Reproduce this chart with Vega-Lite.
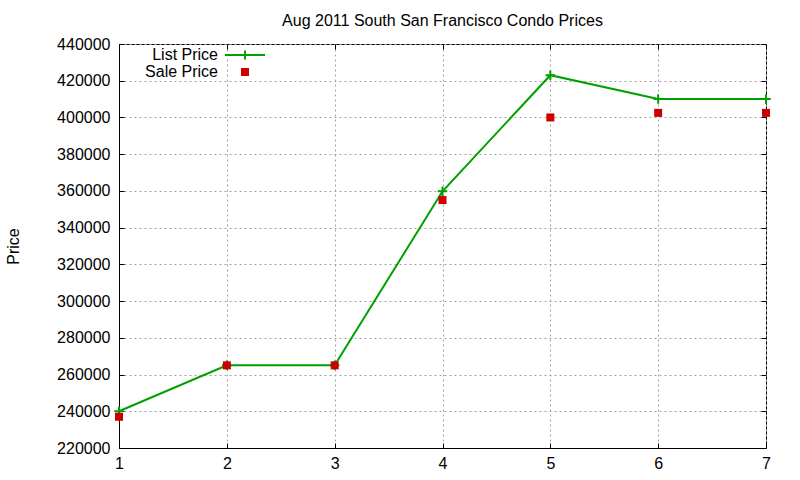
{
  "$schema": "https://vega.github.io/schema/vega-lite/v6.json",
  "autosize": "none",
  "width": 647,
  "height": 404,
  "padding": {"left": 119, "top": 44, "right": 34, "bottom": 32},
  "background": "white",
  "title": {
    "text": "Aug 2011 South San Francisco Condo Prices",
    "font": "Liberation Sans",
    "fontSize": 16,
    "fontWeight": "normal",
    "color": "black",
    "offset": 7
  },
  "config": {
    "view": {"stroke": "black", "strokeWidth": 1},
    "font": "Liberation Sans",
    "axis": {
      "labelFont": "Liberation Sans",
      "labelFontSize": 16,
      "labelColor": "black",
      "titleFont": "Liberation Sans",
      "titleFontSize": 16,
      "titleFontWeight": "normal",
      "titleColor": "black",
      "domainColor": "black",
      "tickColor": "black",
      "tickSize": -5,
      "labelPadding": 14,
      "gridColor": "#a0a0a0",
      "gridDash": [2, 3],
      "gridWidth": 1,
      "gridOpacity": 1
    },
    "legend": {
      "orient": "none",
      "title": null,
      "padding": 0,
      "labelFont": "Liberation Sans",
      "labelFontSize": 16,
      "labelColor": "black",
      "labelAlign": "right",
      "labelOffset": -35,
      "symbolSize": 64,
      "symbolStrokeWidth": 2,
      "symbolOpacity": 1
    }
  },
  "data": {
    "values": [
      {"month": 1, "series": "List Price", "price": 240000},
      {"month": 2, "series": "List Price", "price": 265000},
      {"month": 3, "series": "List Price", "price": 265000},
      {"month": 4, "series": "List Price", "price": 359800},
      {"month": 5, "series": "List Price", "price": 423000},
      {"month": 6, "series": "List Price", "price": 410000},
      {"month": 7, "series": "List Price", "price": 410000},
      {"month": 1, "series": "Sale Price", "price": 237000},
      {"month": 2, "series": "Sale Price", "price": 265000},
      {"month": 3, "series": "Sale Price", "price": 265000},
      {"month": 4, "series": "Sale Price", "price": 355000},
      {"month": 5, "series": "Sale Price", "price": 400000},
      {"month": 6, "series": "Sale Price", "price": 402500},
      {"month": 7, "series": "Sale Price", "price": 402500}
    ]
  },
  "layer": [
    {
      "transform": [{"filter": "datum.series === 'List Price'"}],
      "mark": {"type": "line", "color": "#00a000", "strokeWidth": 2},
      "encoding": {
        "x": {
          "field": "month", "type": "quantitative",
          "scale": {"domain": [1, 7], "nice": false},
          "axis": {"orient": "bottom", "values": [1, 2, 3, 4, 5, 6, 7], "title": null, "grid": true, "format": "d", "labelPadding": 12, "labelFlush": false}
        },
        "y": {
          "field": "price", "type": "quantitative",
          "scale": {"domain": [220000, 440000], "nice": false, "zero": false},
          "axis": {"orient": "left", "values": [220000, 240000, 260000, 280000, 300000, 320000, 340000, 360000, 380000, 400000, 420000, 440000], "format": "d", "title": "Price", "titlePadding": 35, "grid": true, "labelFlush": false}
        }
      }
    },
    {
      "transform": [{"filter": "datum.series === 'List Price'"}],
      "mark": {"type": "point", "filled": false, "opacity": 1, "strokeWidth": 2, "shape": "M-1,0H1M0,-1V1", "size": 90},
      "encoding": {
        "x": {
          "field": "month", "type": "quantitative",
          "axis": {"orient": "top", "values": [1, 2, 3, 4, 5, 6, 7], "labels": false, "title": null, "grid": false, "domain": false}
        },
        "y": {
          "field": "price", "type": "quantitative",
          "axis": {"orient": "right", "values": [220000, 240000, 260000, 280000, 300000, 320000, 340000, 360000, 380000, 400000, 420000, 440000], "labels": false, "title": null, "grid": false, "domain": false}
        },
        "stroke": {
          "field": "series", "type": "nominal",
          "scale": {"domain": ["List Price"], "range": ["#00a000"]},
          "legend": {"legendX": 118, "legendY": 3, "symbolType": "M-5,0H5M0,-1.1V1.1"}
        }
      }
    },
    {
      "transform": [{"filter": "datum.series === 'Sale Price'"}],
      "mark": {"type": "point", "filled": true, "opacity": 1, "shape": "square", "size": 64},
      "encoding": {
        "x": {"field": "month", "type": "quantitative", "axis": null},
        "y": {"field": "price", "type": "quantitative", "axis": null},
        "fill": {
          "field": "series", "type": "nominal",
          "scale": {"domain": ["Sale Price"], "range": ["#cc0000"]},
          "legend": {"legendX": 118, "legendY": 20, "symbolType": "square"}
        }
      }
    }
  ],
  "resolve": {"axis": {"x": "independent", "y": "independent"}}
}
